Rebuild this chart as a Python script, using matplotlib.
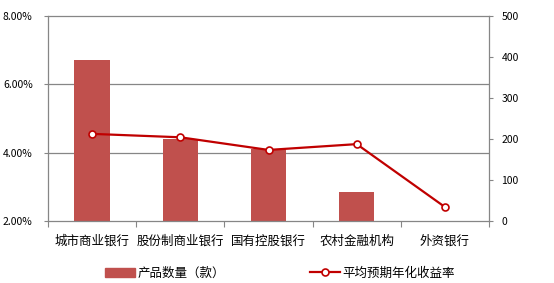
import matplotlib
matplotlib.use("Agg")
import matplotlib.pyplot as plt
from matplotlib.lines import Line2D
from matplotlib.patches import Patch

plt.rcParams['font.family'] = ['Noto Sans CJK SC', 'DejaVu Sans']

categories = ["城市商业银行", "股份制商业银行", "国有控股银行", "农村金融机构", "外资银行"]
counts = [393, 201, 176, 71, 0]
yields = [4.55, 4.45, 4.08, 4.25, 2.41]
left_ticks = [2, 4, 6, 8]
right_ticks = [0, 100, 200, 300, 400, 500]

bar_color = "#C0504D"
line_color = "#C00000"
gray = "#868686"

fig = plt.figure(figsize=(5.54, 2.83), dpi=100)
ax = fig.add_axes([48 / 554, 1 - 221 / 283, 441 / 554, 205 / 283])
axb = ax.twinx()
axb.set_zorder(ax.get_zorder() - 1)
ax.patch.set_visible(False)

x = list(range(len(categories)))

# bars on the right-hand axis
axb.set_ylim(0, 500)
axb.set_yticks(right_ticks)
for t in left_ticks[1:-1]:
    axb.axhline((t - 2) / (8 - 2) * 500, color=gray, lw=0.9, zorder=0)
axb.bar(x, counts, width=0.4, color=bar_color, zorder=2)

# line on the left-hand axis
ax.set_ylim(2, 8)
ax.set_yticks(left_ticks)
ax.set_yticklabels(["%.2f%%" % t for t in left_ticks])
ax.plot(x, yields, color=line_color, lw=1.6, marker="o", ms=5,
        mfc="white", mec=line_color, mew=1.2, zorder=3)

ax.set_xlim(-0.5, len(categories) - 0.5)
ax.set_xticks([i - 0.5 for i in range(len(categories) + 1)])
ax.set_xticklabels([])
ax.set_xticks(x, minor=True)
ax.set_xticklabels(categories, minor=True, fontsize=9)
ax.tick_params(axis="x", which="minor", length=0, pad=10)
ax.tick_params(axis="x", which="major", length=4, color=gray, direction="out")
ax.tick_params(axis="y", length=3, color=gray, labelsize=7.5, pad=8)
axb.tick_params(axis="y", length=3, color=gray, labelsize=7.5, pad=6)

for a in (ax, axb):
    for s in a.spines.values():
        s.set_color(gray)
        s.set_linewidth(0.9)
ax.spines["top"].set_visible(False)
ax.spines["right"].set_visible(False)
axb.spines["left"].set_visible(False)
axb.spines["bottom"].set_visible(False)

handles = [Patch(color=bar_color),
           Line2D([], [], color=line_color, lw=1.6, marker="o", ms=5,
                  mfc="white", mec=line_color, mew=1.2)]
fig.legend(handles, ["产品数量（款）", "平均预期年化收益率"], loc="center",
           bbox_to_anchor=(0.505, 1 - 273 / 283), ncol=2, frameon=False,
           fontsize=9, columnspacing=6.8, handlelength=2.4, handletextpad=0.2)

fig.savefig("out.png", dpi=100)
